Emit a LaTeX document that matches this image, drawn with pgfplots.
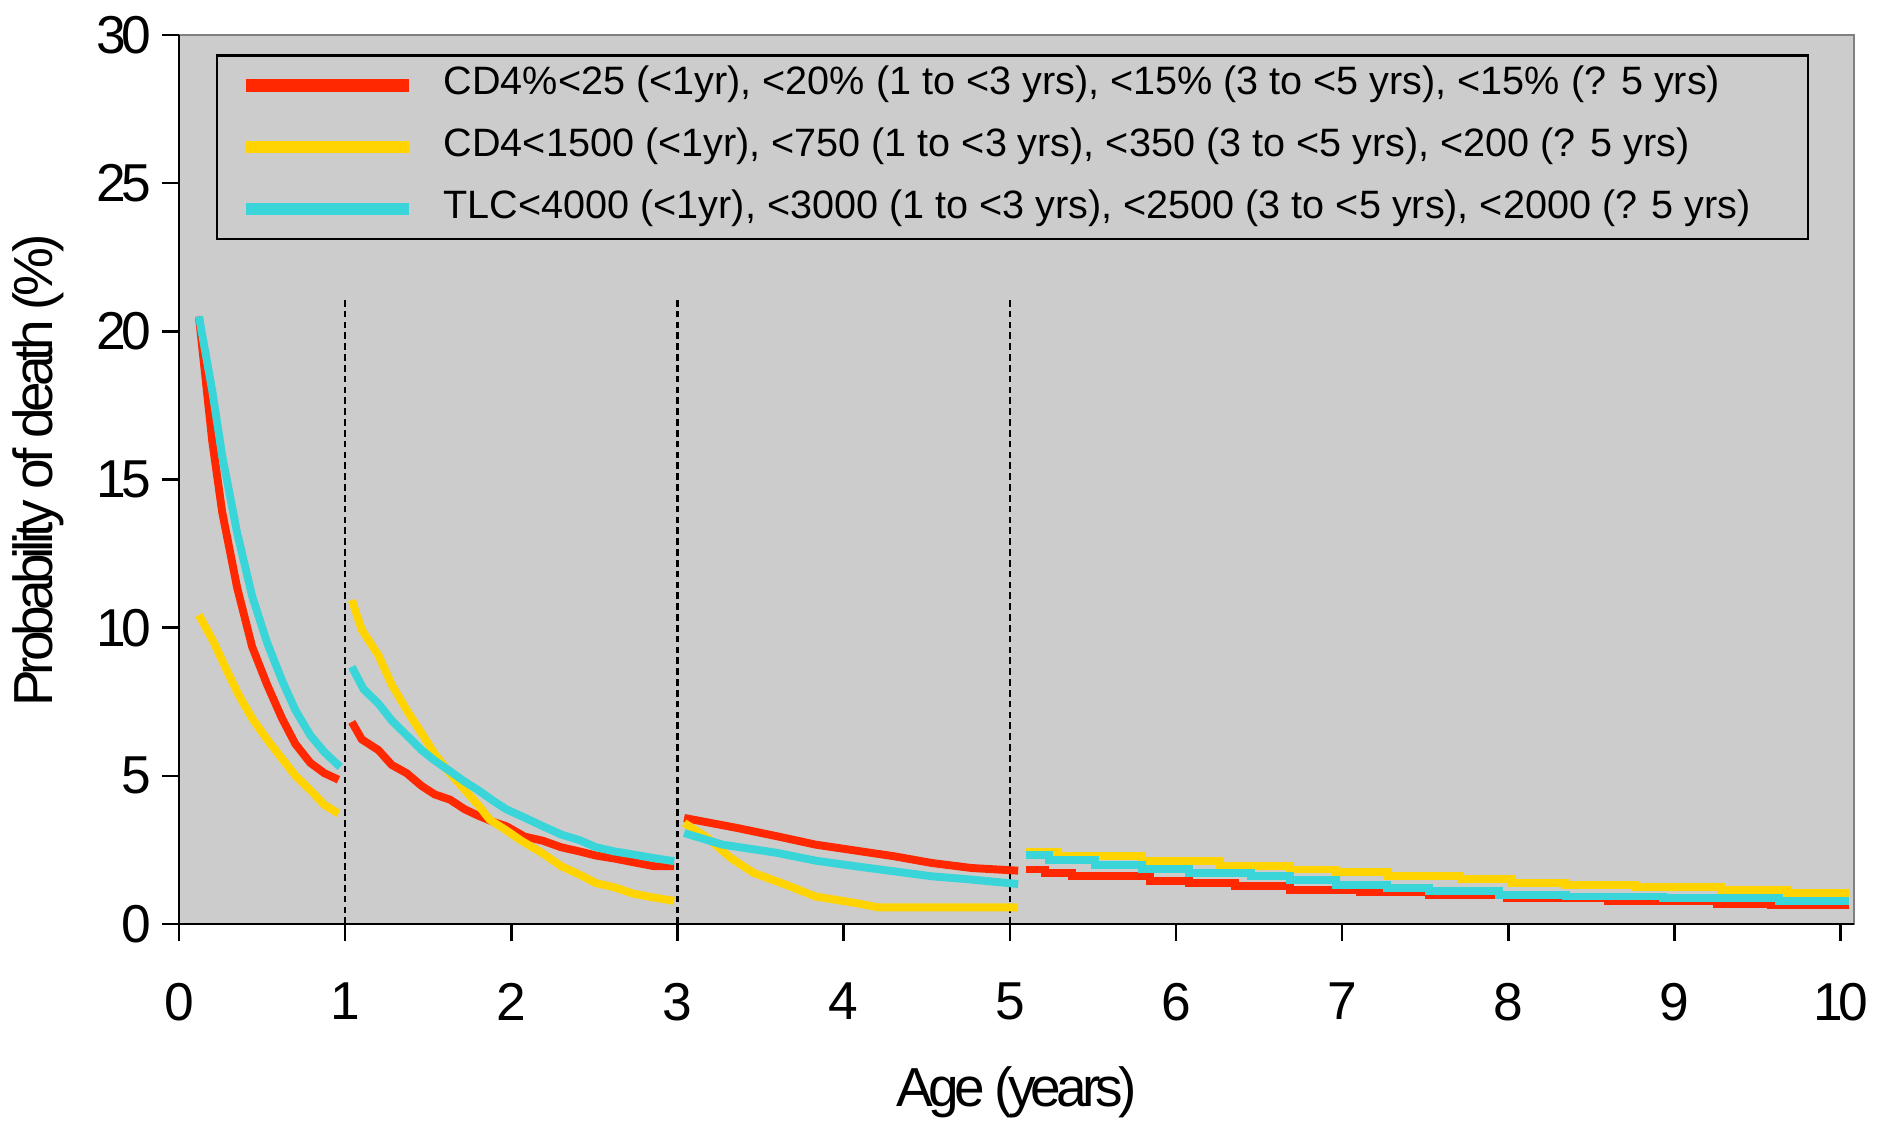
\documentclass[border=0pt]{standalone}
\usepackage{fontspec}
\setmainfont{Liberation Sans}
\newfontfamily\tightfont[LetterSpace=-9]{Liberation Sans}
\usepackage{pgfplots}
\pgfplotsset{compat=1.18}
\definecolor{plotbg}{RGB}{204,204,204}
\definecolor{cdred}{RGB}{255,40,0}
\definecolor{cdyellow}{RGB}{255,212,0}
\definecolor{cdcyan}{RGB}{58,213,216}

\begin{document}
\begin{tikzpicture}
\begin{axis}[
  scale only axis,
  width=402pt,
  height=213.36pt,
  xmin=0, xmax=10.08,
  ymin=0, ymax=30,
  xtick={0,1,...,10},
  ytick={0,5,...,30},
  axis x line*=bottom,
  axis y line*=left,
  axis line style={black, line width=0.6pt},
  tick align=outside,
  major tick length=4pt,
  tick style={black, line width=0.6pt},
  axis background/.style={fill=plotbg, draw=gray, line width=0.5pt},
  /pgf/number format/assume math mode=true,
  ticklabel style={font=\tightfont\fontsize{12.8}{14}\selectfont},
  xticklabel style={yshift=-6.6pt},
  yticklabel style={xshift=0.9pt},
  xlabel={Age (years)},
  ylabel={Probability of death (\%)},
  label style={font=\tightfont\fontsize{13.2}{15}\selectfont},
  xlabel style={at={(axis description cs:0.5,-0.189)}, anchor=center},
  ylabel style={at={(axis description cs:-0.0842,0.51)}, anchor=center},
  unbounded coords=jump,
  legend style={at={(axis description cs:0.022,0.9786)}, anchor=north west,
    draw=black, line width=0.6pt, fill=none,
    font=\fontsize{9.5}{11}\selectfont,
    nodes={text height=7pt, text depth=2.5pt, inner xsep=3.4pt, inner ysep=1.5pt},
    row sep=2.3pt, inner xsep=4pt, inner ysep=1pt},
  legend cell align=left,
  legend image code/.code={
    \path (-1.5pt,0pt) (43.6pt,0pt);
    \draw[#1, line width=3pt] (0.6pt,0pt) -- (39.5pt,0pt);},
]
% segment boundaries
\addplot[black, line width=0.6pt, dash pattern=on 1.6pt off 1pt, forget plot] coordinates {(1,0) (1,21.2)};
\addplot[black, line width=0.6pt, dash pattern=on 1.6pt off 1pt, forget plot] coordinates {(3,0) (3,21.2)};
\addplot[black, line width=0.6pt, dash pattern=on 1.6pt off 1pt, forget plot] coordinates {(5,0) (5,21.2)};

% CD4%
\addplot[cdred, line width=1.9pt] coordinates {
  (0.12,20.5) (0.20,16.3) (0.26,13.9) (0.35,11.35) (0.44,9.36) (0.53,8.08)
  (0.62,6.94) (0.70,6.08) (0.79,5.44) (0.875,5.09) (0.96,4.87)
  (1.0,nan)
  (1.04,6.82) (1.10,6.23) (1.20,5.87) (1.28,5.37) (1.37,5.09) (1.46,4.66)
  (1.54,4.37) (1.63,4.20) (1.72,3.87) (1.80,3.66) (1.89,3.45) (1.97,3.30)
  (2.08,2.95) (2.19,2.81) (2.30,2.59) (2.41,2.45) (2.51,2.31) (2.62,2.21)
  (2.73,2.09) (2.86,1.95) (2.98,1.95)
  (3.0,nan)
  (3.04,3.58) (3.36,3.24) (3.60,2.96) (3.83,2.68) (4.07,2.48) (4.30,2.29)
  (4.53,2.06) (4.77,1.89) (5.05,1.80)
};
\addlegendentry{CD4\%<25 (<1yr), <20\% (1 to <3 yrs), <15\% (3 to <5 yrs), <15\% (? 5 yrs)\hspace*{6.3pt}}

% CD4 count
\addplot[cdyellow, line width=1.9pt] coordinates {
  (0.12,10.43) (0.21,9.5) (0.28,8.65) (0.36,7.72) (0.44,6.94) (0.53,6.23)
  (0.62,5.58) (0.70,5.01) (0.79,4.52) (0.875,4.02) (0.96,3.73)
  (1.0,nan)
  (1.04,10.93) (1.10,9.93) (1.20,9.07) (1.28,8.08) (1.37,7.22) (1.46,6.44)
  (1.54,5.73) (1.63,5.09) (1.72,4.52) (1.80,4.02) (1.87,3.52) (1.97,3.16)
  (2.06,2.81) (2.19,2.38) (2.30,1.95) (2.41,1.67) (2.51,1.38) (2.62,1.24)
  (2.73,1.03) (2.84,0.91) (2.98,0.78)
  (3.0,nan)
  (3.04,3.41) (3.18,2.91) (3.32,2.23) (3.46,1.72) (3.65,1.33) (3.83,0.93)
  (4.07,0.71) (4.21,0.56) (5.05,0.56)
};
\addlegendentry{CD4<1500 (<1yr), <750 (1 to <3 yrs), <350 (3 to <5 yrs), <200 (? 5 yrs)\hspace*{6.3pt}}

% TLC
\addplot[cdcyan, line width=1.9pt] coordinates {
  (0.12,20.5) (0.20,18.0) (0.26,15.8) (0.35,13.2) (0.44,11.07) (0.53,9.5)
  (0.62,8.22) (0.70,7.22) (0.79,6.37) (0.875,5.80) (0.97,5.30)
  (1.0,nan)
  (1.04,8.68) (1.11,7.93) (1.20,7.44) (1.28,6.87) (1.37,6.37) (1.46,5.87)
  (1.54,5.51) (1.63,5.16) (1.72,4.80) (1.80,4.52) (1.89,4.16) (1.97,3.87)
  (2.08,3.59) (2.19,3.30) (2.30,3.02) (2.41,2.83) (2.51,2.59) (2.62,2.45)
  (2.73,2.35) (2.84,2.24) (2.98,2.12)
  (3.0,nan)
  (3.04,3.07) (3.27,2.68) (3.60,2.40) (3.83,2.14) (4.07,1.95) (4.30,1.78)
  (4.53,1.61) (4.77,1.50) (5.05,1.35)
};
\addlegendentry{TLC<4000 (<1yr), <3000 (1 to <3 yrs), <2500 (3 to <5 yrs), <2000 (? 5 yrs)\hspace*{6.3pt}}

% after 5 years: step curves
\addplot[cdred, line width=1.9pt, const plot mark left, forget plot] coordinates {
  (5.10,1.84) (5.21,1.72) (5.375,1.61) (5.843,1.46) (6.076,1.39) (6.357,1.27)
  (6.684,1.16) (7.105,1.07) (7.525,0.97) (7.993,0.88) (8.6,0.77) (9.255,0.68)
  (9.58,0.63) (10.05,0.63)
};
\addplot[cdyellow, line width=1.9pt, const plot mark left, forget plot] coordinates {
  (5.10,2.43) (5.281,2.29) (5.796,2.12) (6.263,1.95) (6.684,1.84) (6.964,1.76)
  (7.268,1.61) (7.712,1.53) (8.016,1.39) (8.344,1.33) (8.764,1.24) (9.279,1.14)
  (9.676,1.05) (10.05,1.05)
};
\addplot[cdcyan, line width=1.9pt, const plot mark left, forget plot] coordinates {
  (5.10,2.32) (5.235,2.17) (5.515,2.00) (5.796,1.87) (6.076,1.72) (6.45,1.61)
  (6.684,1.48) (6.964,1.33) (7.268,1.22) (7.525,1.11) (7.946,0.99) (8.344,0.93)
  (8.928,0.88) (9.63,0.77) (10.05,0.77)
};
\end{axis}
\pgfresetboundingbox
\path (-42.96pt,-47.04pt) rectangle (408.48pt,221.76pt);
\end{tikzpicture}
\end{document}
